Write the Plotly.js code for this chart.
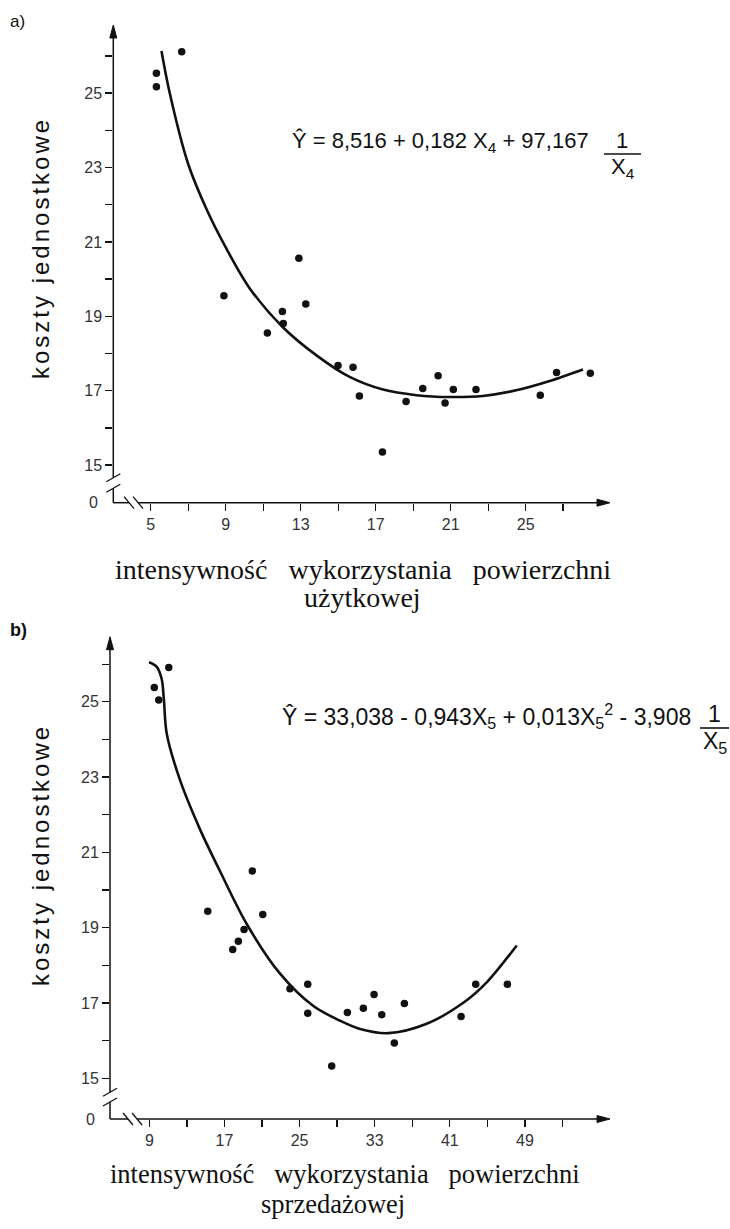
<!DOCTYPE html>
<html><head><meta charset="utf-8">
<script src="https://cdn.plot.ly/plotly-3.0.1.min.js"></script>
<style>html,body{margin:0;padding:0;background:#fff;}</style>
</head><body><div id="chart" style="width:730px;height:1229px;"></div>
<script>
// ---------- data ----------
// panel a) : intensywność wykorzystania powierzchni użytkowej (X4)
const aPointsX = [5.3, 5.3, 6.65, 8.9, 11.22, 12.02, 12.07, 12.9, 13.27, 14.99, 15.79, 16.13, 17.36, 18.62, 19.51, 20.33, 20.70, 21.14, 22.35, 25.78, 26.65, 28.45];
const aPointsY = [25.53, 25.17, 26.11, 19.55, 18.55, 19.13, 18.81, 20.56, 19.33, 17.68, 17.63, 16.86, 15.35, 16.71, 17.06, 17.40, 16.67, 17.03, 17.03, 16.88, 17.49, 17.47];
const aCurveX = [5.57, 6.01, 6.99, 8.0, 9.0, 10.28, 12.06, 13.84, 15.61, 17.39, 19.17, 20.95, 22.72, 24.5, 26.28, 28.06];
const aCurveY = [26.13, 25.0, 23.1, 21.85, 20.85, 19.75, 18.70, 17.95, 17.37, 17.03, 16.88, 16.83, 16.86, 17.01, 17.26, 17.57];
const aTickVals = [5, 9, 13, 17, 21, 25];
const aTickText = ['5', '9', '13', '17', '21', '25'];
const aMinorVals = [7, 11, 15, 19, 23, 27];

// panel b) : intensywność wykorzystania powierzchni sprzedażowej (X5)
const bPointsX = [9.53, 10.0, 11.07, 15.22, 17.88, 18.48, 19.09, 19.97, 21.08, 23.98, 25.87, 25.87, 28.42, 30.09, 31.79, 32.93, 33.75, 35.09, 36.16, 42.2, 43.76, 47.13];
const bPointsY = [25.38, 25.05, 25.91, 19.44, 18.42, 18.64, 18.95, 20.51, 19.35, 17.38, 17.5, 16.73, 15.33, 16.75, 16.86, 17.23, 16.69, 15.94, 16.99, 16.64, 17.5, 17.5];
const bCurveX = [8.97, 9.79, 10.32, 10.55, 10.85, 12.27, 14.42, 16.53, 19.37, 22.92, 26.47, 29.31, 31.44, 34.45, 38.54, 42.4, 44.93, 48.13];
const bCurveY = [26.05, 25.93, 25.6, 25.05, 24.16, 22.92, 21.6, 20.5, 19.1, 17.78, 16.92, 16.53, 16.31, 16.20, 16.45, 17.0, 17.55, 18.53];
const bTickVals = [9, 17, 25, 33, 41, 49];
const bTickText = ['9', '17', '25', '33', '41', '49'];
const bMinorVals = [13, 21, 29, 37, 45, 53];

// y axis (shared): 0 shown below an axis break, then 15..26
const yTickVals = [15, 17, 19, 21, 23, 25];
const yTickText = ['15', '17', '19', '21', '23', '25'];
const yMinorVals = [16, 18, 20, 22, 24, 26];

const yTitle = 'koszty jednostkowe';
const xTitleLine1 = 'intensywność\u00a0\u00a0\u00a0wykorzystania\u00a0\u00a0\u00a0powierzchni';
const aTitleLine2 = 'użytkowej';
const bTitleLine2 = 'sprzedażowej';
const aEquation = 'Ŷ = 8,516 + 0,182 X<sub>4</sub> + 97,167';
const aEqDen = 'X<sub>4</sub>';
const bEquation = 'Ŷ = 33,038 - 0,943X<sub>5</sub> + 0,013X<sub>5</sub><sup>2</sup> - 3,908';
const bEqDen = 'X<sub>5</sub>';

// ---------- geometry ----------
const W = 730, H = 1229;
const A = { xr: [3, 29.5], yr: [13.99, 26.83], xd: [113.3 / W, 610 / W], yd: [1 - 502.7 / H, 1 - 25 / H] };
const B = { xr: [4.81, 58.06], yr: [13.92, 26.73], xd: [110 / W, 610 / W], yd: [1 - 1119 / H, 1 - 636.7 / H] };
const PX = (P, v) => P.xd[0] + (v - P.xr[0]) / (P.xr[1] - P.xr[0]) * (P.xd[1] - P.xd[0]);
const PY = (P, v) => P.yd[0] + (v - P.yr[0]) / (P.yr[1] - P.yr[0]) * (P.yd[1] - P.yd[0]);
const px = x => x / W, py = y => 1 - y / H;

const INK = '#111';
const line = (x0, y0, x1, y1, w) => ({ type: 'line', xref: 'paper', yref: 'paper', x0, y0, x1, y1, layer: 'above', line: { color: INK, width: w || 1.5 } });
const tri = pts => ({ type: 'path', xref: 'paper', yref: 'paper', layer: 'above', fillcolor: INK, line: { color: INK, width: 1 },
  path: 'M' + pts.map(p => p[0] + ',' + p[1]).join(' L') + ' Z' });

function decor(P, yBrk, xBrk) {
  const x0 = PX(P, P.xr[0]), yb = PY(P, P.yr[0]);
  const yt = PY(P, P.yr[1]), xr = PX(P, P.xr[1]);
  const s = [];
  // y axis with break + arrowhead
  s.push(line(x0, yt - 6 / H, x0, PY(P, yBrk[0])));
  s.push(line(x0, PY(P, yBrk[1]), x0, yb));
  s.push(tri([[x0, yt], [x0 - 3.5 / W, yt - 13 / H], [x0 + 3.5 / W, yt - 13 / H]]));
  // x axis with break + arrowhead
  s.push(line(x0, yb, PX(P, xBrk[0]), yb));
  s.push(line(PX(P, xBrk[1]), yb, xr - 6 / W, yb));
  s.push(tri([[xr, yb], [xr - 13 / W, yb + 3.5 / H], [xr - 13 / W, yb - 3.5 / H]]));
  // break strokes
  const dxy = 7 / W, dyy = 4 / H;
  yBrk.forEach(v => s.push(line(x0 - dxy, PY(P, v) - dyy, x0 + dxy, PY(P, v) + dyy, 1.3)));
  const dxx = 5 / W, dyx = 6 / H;
  xBrk.forEach(v => s.push(line(PX(P, v) - dxx, yb + dyx, PX(P, v) + dxx, yb - dyx, 1.3)));
  return s;
}

const tickFont = { family: 'Liberation Sans, Arial, sans-serif', size: 16, color: '#333' };
const minorOf = vals => ({ tickmode: 'array', tickvals: vals, ticks: 'outside', ticklen: 7, tickwidth: 1.3, tickcolor: INK, showgrid: false });
function xAxis(P, vals, text, minor, anchor) {
  return { domain: P.xd, range: P.xr, anchor, showgrid: false, zeroline: false, showline: false,
    ticks: 'outside', ticklen: 7, tickwidth: 1.3, tickcolor: INK, tickmode: 'array', tickvals: vals, ticktext: text,
    minor: minorOf(minor), tickfont: tickFont, fixedrange: true };
}
function yAxis(P, anchor) {
  return { domain: P.yd, range: P.yr, anchor, showgrid: false, zeroline: false, showline: false,
    ticks: 'outside', ticklen: 7, tickwidth: 1.3, tickcolor: INK, tickmode: 'array', tickvals: yTickVals, ticktext: yTickText,
    minor: minorOf(yMinorVals), tickfont: tickFont, fixedrange: true };
}

const marker = { size: 7.5, color: INK };
const curveLine = { color: INK, width: 2.6, shape: 'spline', smoothing: 0.9 };
const traces = [
  { x: aPointsX, y: aPointsY, xaxis: 'x', yaxis: 'y', mode: 'markers', type: 'scatter', marker },
  { x: aCurveX, y: aCurveY, xaxis: 'x', yaxis: 'y', mode: 'lines', type: 'scatter', line: curveLine },
  { x: bPointsX, y: bPointsY, xaxis: 'x2', yaxis: 'y2', mode: 'markers', type: 'scatter', marker },
  { x: bCurveX, y: bCurveY, xaxis: 'x2', yaxis: 'y2', mode: 'lines', type: 'scatter', line: curveLine }
];

const sans = 'Liberation Sans, Arial, sans-serif';
const serif = 'Liberation Serif, Times New Roman, serif';
const txt = (text, x, y, o) => Object.assign({ xref: 'paper', yref: 'paper', x: px(x), y: py(y), text, showarrow: false,
  xanchor: 'center', yanchor: 'middle', font: { family: sans, size: 22, color: INK } }, o || {});

const annotations = [
  txt('a)', 8, 21, { xanchor: 'left', font: { family: sans, size: 17, color: INK } }),
  txt('<b>b)</b>', 8, 630, { xanchor: 'left', font: { family: sans, size: 18, color: INK } }),
  txt('0', 100, 503, { xanchor: 'right', font: tickFont }),
  txt('0', 97, 1119, { xanchor: 'right', font: tickFont }),
  txt(yTitle, 40, 248, { textangle: -90, font: { family: sans, size: 24, color: INK } }),
  txt(yTitle, 40, 855, { textangle: -90, font: { family: sans, size: 24, color: INK } }),
  txt(xTitleLine1, 363, 569, { font: { family: serif, size: 28, color: INK } }),
  txt(aTitleLine2, 362, 598, { font: { family: serif, size: 28, color: INK } }),
  txt(xTitleLine1, 345, 1174, { font: { family: serif, size: 26.5, color: INK } }),
  txt(bTitleLine2, 333, 1204, { font: { family: serif, size: 26.5, color: INK } }),
  txt(aEquation, 290, 142, { xanchor: 'left' }),
  txt('1', 622, 140, {}),
  txt(aEqDen, 623, 168, {}),
  txt(bEquation, 280, 716, { xanchor: 'left', font: { family: sans, size: 23, color: INK } }),
  txt('1', 714, 714, { font: { family: sans, size: 23, color: INK } }),
  txt(bEqDen, 715, 742, { font: { family: sans, size: 23, color: INK } })
];

const shapes = [].concat(
  decor(A, [14.66, 14.38], [3.84, 4.32]),
  decor(B, [14.63, 14.37], [6.73, 7.69]),
  [ line(px(604), py(154), px(641), py(154), 1.6), line(px(700), py(728), px(729), py(728), 1.6) ]
);

const layout = {
  width: W, height: H, margin: { l: 0, r: 0, t: 0, b: 0 },
  paper_bgcolor: '#fff', plot_bgcolor: 'rgba(0,0,0,0)', showlegend: false,
  xaxis: xAxis(A, aTickVals, aTickText, aMinorVals, 'y'),
  yaxis: yAxis(A, 'x'),
  xaxis2: xAxis(B, bTickVals, bTickText, bMinorVals, 'y2'),
  yaxis2: yAxis(B, 'x2'),
  shapes, annotations
};

Plotly.newPlot('chart', traces, layout, { staticPlot: true, displayModeBar: false }).then(() => {
  document.querySelectorAll('.annotation-text').forEach(t => {
    if (t.textContent.indexOf('koszty') === 0) t.style.letterSpacing = '3px';
  });
});
</script></body></html>
